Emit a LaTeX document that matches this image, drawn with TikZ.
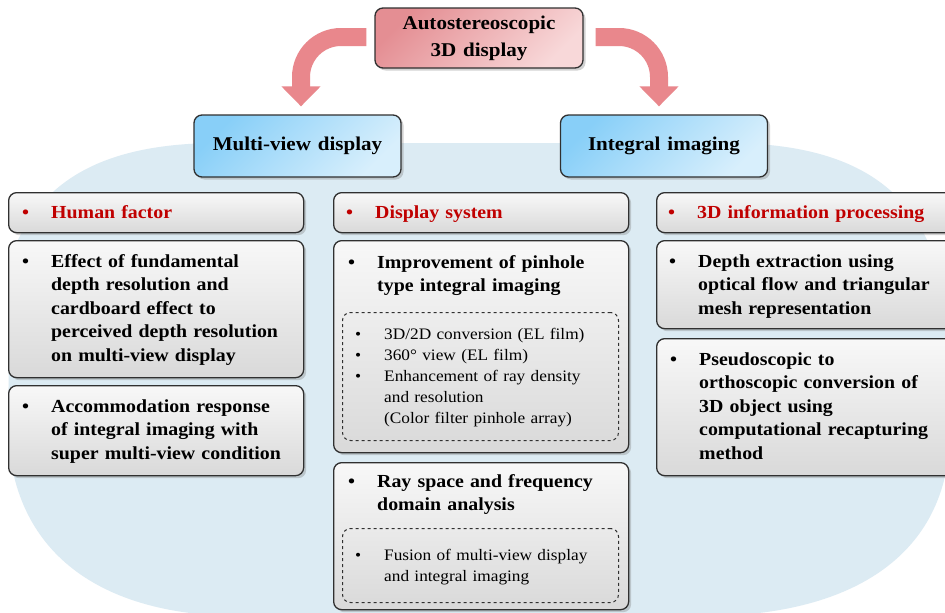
\documentclass[tikz,border=0pt]{standalone}
\usepackage{fontspec}
\setmainfont{Liberation Serif}[FakeStretch=1.08, WordSpace=1.3]
\usetikzlibrary{shadows,arrows.meta,calc}
\definecolor{bgblue}{HTML}{DCEBF3}
\definecolor{bordc}{HTML}{303030}
\definecolor{redt}{HTML}{C00000}
\definecolor{arrowc}{HTML}{E9878C}
\definecolor{gtop}{HTML}{F8F8F8}
\definecolor{gbot}{HTML}{D9D9D9}
\definecolor{btop}{HTML}{88CFF8}
\definecolor{bbot}{HTML}{D8EFFC}
\definecolor{ptop}{HTML}{E48E93}
\definecolor{pbot}{HTML}{F8D8D9}
\newcommand\bitem[2][29pt]{\makebox[#1][l]{\textbullet}\parbox[t]{290pt}{\raggedright #2}\par}
\begin{document}
\begin{tikzpicture}[x=1pt,y=-1pt,
  boxbase/.style={draw=bordc, line width=1.3pt, rounded corners=8pt, inner sep=0pt,
    drop shadow={shadow xshift=2.5pt, shadow yshift=-2.5pt, opacity=0.35}},
  gbox/.style={boxbase, top color=gtop, bottom color=gbot, anchor=north west},
  bluebox/.style={boxbase, top color=btop, bottom color=bbot, shading angle=45,
    minimum width=207pt, minimum height=62pt, font=\fontsize{19.5pt}{26pt}\selectfont\bfseries},
  pinkbox/.style={boxbase, top color=ptop, bottom color=pbot, shading angle=45,
    minimum width=208pt, minimum height=60pt, align=center,
    font=\fontsize{19.5pt}{27pt}\selectfont\bfseries},
  dbox/.style={draw=bordc, line width=1pt, dashed, rounded corners=8pt, inner sep=0pt, anchor=north west},
  maintxt/.style={anchor=base west, inner sep=0pt, text width=320pt,
    font=\fontsize{18.4pt}{23.5pt}\selectfont\bfseries},
  headtxt/.style={maintxt, text=redt},
  smalltxt/.style={anchor=base west, inner sep=0pt, text width=320pt,
    font=\fontsize{16pt}{21pt}\selectfont},
  bigarrow/.style={arrowc, line width=18pt, rounded corners=40pt,
    -{Triangle[width=38pt,length=20pt]}}
]
\clip (0,0) rectangle (945,613);
\fill[white] (0,0) rectangle (945,613);
% background blob
\fill[bgblue] (10,260) .. controls (40,170) and (120,143) .. (220,143)
  -- (725,143) .. controls (825,143) and (905,170) .. (935,260)
  -- (950,300) -- (950,430) .. controls (950,560) and (845,616) .. (705,616)
  -- (240,616) .. controls (110,616) and (12,560) .. (8,430) -- cycle;

% top level
\node[pinkbox] (top) at (479,38) {Autostereoscopic\\3D display};
\node[bluebox] (mv) at (297.5,146) {Multi-view display};
\node[bluebox] (ii) at (664,146) {Integral imaging};

% curved arrows
\draw[bigarrow] ($(top.west)+(-8,-1)$) -| ($(mv.north)+(3.5,-8)$);
\draw[bigarrow] ($(top.east)+(12,-1)$) -| ($(ii.north)+(-5,-8)$);

% column 1
\node[gbox, minimum width=295pt, minimum height=40pt] (hf) at (8,192) {};
\node[gbox, minimum width=295pt, minimum height=137pt] (e1) at (8,240) {};
\node[gbox, minimum width=295pt, minimum height=90pt] (e2) at (8,385) {};
\node[headtxt] (hft) at (22,218) {\bitem{Human factor}};
\node[maintxt] (e1t) at (22,267) {\bitem{Effect of fundamental\newline depth resolution and\newline cardboard effect to\newline perceived depth resolution\newline on multi-view display}};
\node[maintxt] (e2t) at (22,412) {\bitem{Accommodation response\newline of integral imaging with\newline super multi-view condition}};

% column 2
\node[gbox, minimum width=295pt, minimum height=40pt] (ds) at (333,192) {};
\node[gbox, minimum width=295pt, minimum height=212pt] (e3) at (333,240) {};
\node[dbox, minimum width=276pt, minimum height=128pt] (d3) at (342,312) {};
\node[gbox, minimum width=295pt, minimum height=147pt] (e4) at (333,462) {};
\node[dbox, minimum width=276pt, minimum height=74pt] (d4) at (342,528) {};
\node[headtxt] (dst) at (346,218) {\bitem{Display system}};
\node[maintxt] (e3t) at (348,268) {\bitem{Improvement of pinhole\newline type integral imaging}};
\node[smalltxt] (d3t) at (355,339) {\bitem{3D/2D conversion (EL film)}\bitem{360° view (EL film)}\bitem{Enhancement of ray density\newline and resolution\newline (Color filter pinhole array)}};
\node[maintxt] (e4t) at (348,487) {\bitem{Ray space and frequency\newline domain analysis}};
\node[smalltxt] (d4t) at (355,560) {\bitem{Fusion of multi-view display\newline and integral imaging}};

% column 3
\node[gbox, minimum width=300pt, minimum height=40pt] (ip) at (656,192) {};
\node[gbox, minimum width=300pt, minimum height=88pt] (e5) at (656,240) {};
\node[gbox, minimum width=300pt, minimum height=137pt] (e6) at (656,338) {};
\node[headtxt] (ipt) at (668,218) {\bitem{3D information processing}};
\node[maintxt] (e5t) at (669,267) {\bitem{Depth extraction using\newline optical flow and triangular\newline mesh representation}};
\node[maintxt] (e6t) at (670,365) {\bitem{Pseudoscopic to\newline orthoscopic conversion of\newline 3D object using\newline computational recapturing\newline method}};
\end{tikzpicture}
\end{document}
